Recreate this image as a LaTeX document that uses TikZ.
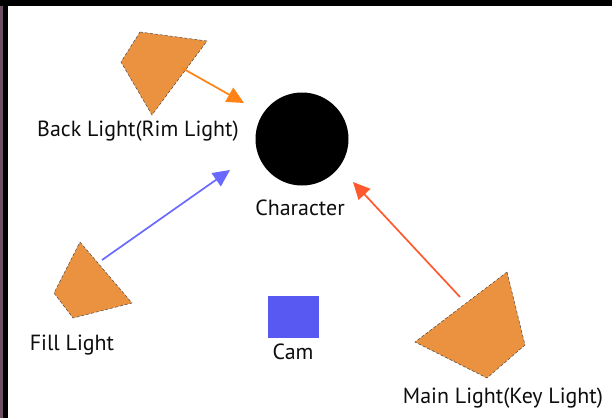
\documentclass[tikz,border=0pt]{standalone}
\usepackage{fontspec}
\setmainfont{PT Sans}
\usetikzlibrary{arrows.meta}
\definecolor{lampfill}{RGB}{234,146,64}
\definecolor{rimarrow}{RGB}{255,130,20}
\definecolor{keyarrow}{RGB}{255,90,45}
\definecolor{fillarrow}{RGB}{105,105,255}
\definecolor{camblue}{RGB}{88,88,242}
\definecolor{edgepurple}{RGB}{110,80,100}
\tikzset{
  lamp/.style={fill=lampfill, draw=black!70, densely dashed, line width=0.5pt},
  lbl/.style={font=\fontsize{22}{25}\selectfont, text=black!95, inner sep=0pt},
  ray/.style={line width=1.7pt, -{Triangle[length=17pt,width=16pt]}},
}
\begin{document}
\begin{tikzpicture}[x=1bp,y=-1bp]
\useasboundingbox (0,0) rectangle (612,418);
\fill[white] (0,0) rectangle (612,418);
\fill[black] (0,0) rectangle (612,6);
\fill[black] (0,0) rectangle (8,418);
\fill[edgepurple] (0,6) rectangle (3,418);
% lights
\draw[lamp] (140,32) -- (207,41) -- (152,115) -- (121,62) -- cycle;
\draw[lamp] (80,242) -- (132,303) -- (73,318) -- (54,293) -- cycle;
\draw[lamp] (507,272) -- (525,345) -- (487,378) -- (415,342) -- cycle;
% character and cam
\node[circle, fill=black, minimum size=93bp, inner sep=0pt] (char) at (302,139) {};
\node[fill=camblue, minimum width=51bp, minimum height=42bp, inner sep=0pt] (cam) at (293,317) {};
% labels
\node[lbl] (rimlbl) at (138,131) {Back Light(Rim Light)};
\node[lbl] (charlbl) at (300,208) {Character};
\node[lbl] (filllbl) at (72,345) {Fill Light};
\node[lbl] (camlbl) at (293,352) {Cam};
\node[lbl] (keylbl) at (503,398) {Main Light(Key Light)};
% ray endpoints
\coordinate (rimsrc) at (182,68);
\coordinate (rimdst) at (244,103);
\coordinate (fillsrc) at (102,260);
\coordinate (filldst) at (230,170);
\coordinate (keysrc) at (460,297);
\coordinate (keydst) at (353,182);
\draw[ray, rimarrow] (rimsrc) -- (rimdst);
\draw[ray, fillarrow] (fillsrc) -- (filldst);
\draw[ray, keyarrow] (keysrc) -- (keydst);
\end{tikzpicture}
\end{document}
